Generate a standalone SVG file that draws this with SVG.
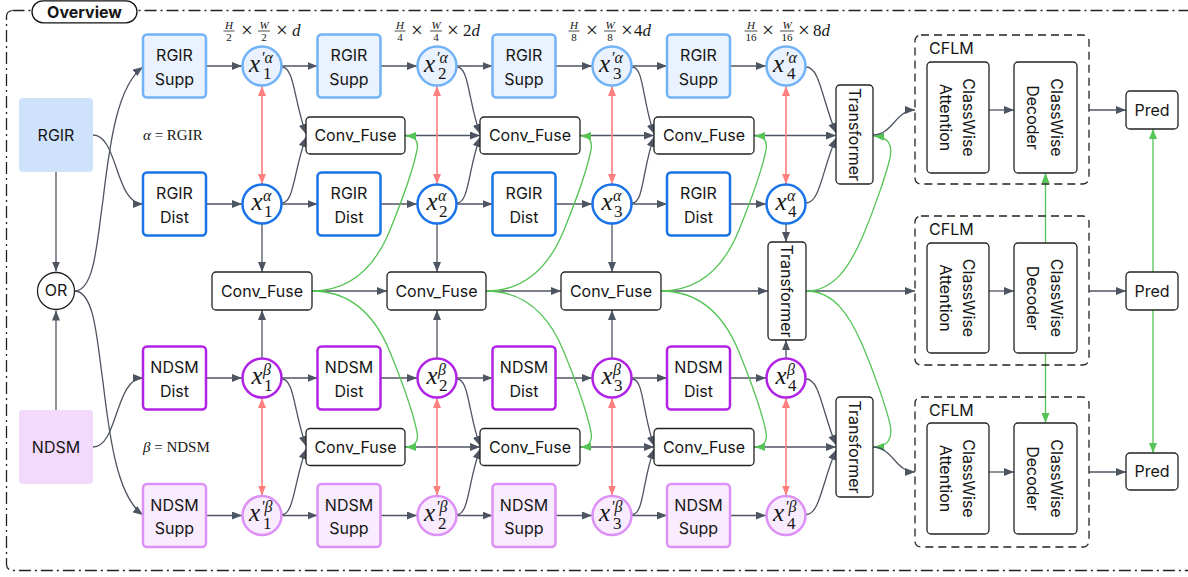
<svg xmlns="http://www.w3.org/2000/svg" width="1188" height="577" viewBox="0 0 1188 577">
<defs>
<style>
.t{font-family:Inter,"Noto Sans",sans-serif;font-size:16px;fill:#161616;text-anchor:middle}
.ts{text-anchor:start}
.m{font-family:"Liberation Serif",serif;fill:#161616}
.mi{font-style:italic}
.fr{font-size:11px;text-anchor:middle}
.op{font-size:21px;text-anchor:middle}
.st{font-size:17px;text-anchor:start}
.mx{font-size:25px;font-style:italic}
.ms{font-size:16px;font-style:italic}
.md{font-size:17px}
.bar{stroke:#222;stroke-width:0.8}
.bx{fill:#fff;stroke:#222;stroke-width:1.3}
.sa{fill:#e9f2fe;stroke:#72b2f6;stroke-width:2.5}
.da{fill:#fff;stroke:#1a73e8;stroke-width:2.5}
.db{fill:#fff;stroke:#b122e6;stroke-width:2.5}
.sb{fill:#f8ecfe;stroke:#dd90f5;stroke-width:2.5}
.cf{fill:none;stroke:#222;stroke-width:1.3;stroke-dasharray:8 5}
.g{fill:none;stroke:#4e5562;stroke-width:1.3;marker-end:url(#ag)}
.r{fill:none;stroke:#ff7e7e;stroke-width:1.6;marker-start:url(#ar);marker-end:url(#ar)}
.gr{fill:none;stroke:#55c455;stroke-width:1.3;marker-end:url(#agr)}
</style>
<marker id="ag" markerUnits="userSpaceOnUse" markerWidth="10" markerHeight="8" refX="10" refY="4" orient="auto"><path d="M0,0 L10,4 L0,8 z" fill="#4e5562"/></marker>
<marker id="ar" markerUnits="userSpaceOnUse" markerWidth="10" markerHeight="8" refX="10" refY="4" orient="auto-start-reverse"><path d="M0,0 L10,4 L0,8 z" fill="#ff7e7e"/></marker>
<marker id="agr" markerUnits="userSpaceOnUse" markerWidth="10" markerHeight="8" refX="10" refY="4" orient="auto"><path d="M0,0 L10,4 L0,8 z" fill="#55c455"/></marker>
</defs>
<rect width="1188" height="577" fill="#fff"/>
<rect x="6.5" y="10.5" width="1190" height="560" rx="6" fill="none" stroke="#222" stroke-width="1.3" stroke-dasharray="12 4 2 4"/>
<g id="overview"><rect x="32" y="0.8" width="105" height="22" rx="11" fill="#fff" stroke="#111" stroke-width="1.3"/><text class="t" x="84.5" y="17.5" font-weight="700">Overview</text></g>

<g id="dims">
<g id="dim1">
<text class="m fr mi" x="229" y="28.5">H</text><line class="bar" x1="223.5" y1="31" x2="234.5" y2="31"/><text class="m fr" x="229" y="40.5">2</text>
<text class="m op" x="247" y="37">×</text>
<text class="m fr mi" x="264" y="28.5">W</text><line class="bar" x1="258" y1="31" x2="270" y2="31"/><text class="m fr" x="264" y="40.5">2</text>
<text class="m op" x="282" y="37">×</text>
<text class="m st mi" x="292" y="36">d</text>
</g>
<g id="dim2">
<text class="m fr mi" x="400" y="28.5">H</text><line class="bar" x1="394.5" y1="31" x2="405.5" y2="31"/><text class="m fr" x="400" y="40.5">4</text>
<text class="m op" x="417" y="37">×</text>
<text class="m fr mi" x="436" y="28.5">W</text><line class="bar" x1="430" y1="31" x2="442" y2="31"/><text class="m fr" x="436" y="40.5">4</text>
<text class="m op" x="453" y="37">×</text>
<text class="m st" x="463" y="36">2<tspan class="mi">d</tspan></text>
</g>
<g id="dim3">
<text class="m fr mi" x="574" y="28.5">H</text><line class="bar" x1="568.5" y1="31" x2="579.5" y2="31"/><text class="m fr" x="574" y="40.5">8</text>
<text class="m op" x="592" y="37">×</text>
<text class="m fr mi" x="610" y="28.5">W</text><line class="bar" x1="604" y1="31" x2="616" y2="31"/><text class="m fr" x="610" y="40.5">8</text>
<text class="m op" x="627" y="37">×</text>
<text class="m st" x="634" y="36">4<tspan class="mi">d</tspan></text>
</g>
<g id="dim4">
<text class="m fr mi" x="751" y="28.5">H</text><line class="bar" x1="744.5" y1="31" x2="757.5" y2="31"/><text class="m fr" x="751" y="40.5">16</text>
<text class="m op" x="768" y="37">×</text>
<text class="m fr mi" x="787" y="28.5">W</text><line class="bar" x1="780" y1="31" x2="794" y2="31"/><text class="m fr" x="787" y="40.5">16</text>
<text class="m op" x="804" y="37">×</text>
<text class="m st" x="813" y="36">8<tspan class="mi">d</tspan></text>
</g>
<text class="m" x="143" y="140" font-size="15"><tspan class="mi">α</tspan> = RGIR</text>
<text class="m" x="143" y="451.5" font-size="15"><tspan class="mi">β</tspan> = NDSM</text>
</g>

<g id="connectors">
<path class="g" d="M56,172 L56,271.5"/>
<path class="g" d="M56,410 L56,310.5"/>
<path class="g" d="M75,291 C95,290 97,240 103,200 C110,140 118,85 143,67"/>
<path class="g" d="M75,291 C95,292 97,342 103,382 C110,442 118,497 143,515"/>
<path class="g" d="M93,135 C118,135 115,204 143,204"/>
<path class="g" d="M93,447 C118,447 115,378 143,378"/>
<path class="g" d="M206,66 L242,66"/><path class="g" d="M282,66 L317.5,66"/><path class="g" d="M380.5,66 L417,66"/><path class="g" d="M457,66 L492.5,66"/><path class="g" d="M555.5,66 L592,66"/><path class="g" d="M632,66 L667,66"/><path class="g" d="M730,66 L766,66"/>
<path class="g" d="M206,204 L242,204"/><path class="g" d="M282,204 L317.5,204"/><path class="g" d="M380.5,204 L417,204"/><path class="g" d="M457,204 L492.5,204"/><path class="g" d="M555.5,204 L592,204"/><path class="g" d="M632,204 L667,204"/><path class="g" d="M730,204 L766,204"/>
<path class="g" d="M206,378 L242,378"/><path class="g" d="M282,378 L317.5,378"/><path class="g" d="M380.5,378 L417,378"/><path class="g" d="M457,378 L492.5,378"/><path class="g" d="M555.5,378 L592,378"/><path class="g" d="M632,378 L667,378"/><path class="g" d="M730,378 L766,378"/>
<path class="g" d="M206,515.5 L242,515.5"/><path class="g" d="M282,515.5 L317.5,515.5"/><path class="g" d="M380.5,515.5 L417,515.5"/><path class="g" d="M457,515.5 L492.5,515.5"/><path class="g" d="M555.5,515.5 L592,515.5"/><path class="g" d="M632,515.5 L667,515.5"/><path class="g" d="M730,515.5 L766,515.5"/>
<path class="g" d="M282,67 C294,67 294,100 306,134"/><path class="g" d="M282,203 C294,203 294,170 306,137"/>
<path class="g" d="M457,67 C469,67 468,100 480,134"/><path class="g" d="M457,203 C469,203 468,170 480,137"/>
<path class="g" d="M632,67 C644,67 642,100 654,134"/><path class="g" d="M632,203 C644,203 642,170 654,137"/>
<path class="g" d="M806,67 C820,67 822,100 836,133"/><path class="g" d="M806,203 C820,203 822,170 836,138"/>
<path class="g" d="M282,379 C294,379 294,412 306,446"/><path class="g" d="M282,514.5 C294,514.5 294,482 306,449"/>
<path class="g" d="M457,379 C469,379 468,412 480,446"/><path class="g" d="M457,514.5 C469,514.5 468,482 480,449"/>
<path class="g" d="M632,379 C644,379 642,412 654,446"/><path class="g" d="M632,514.5 C644,514.5 642,482 654,449"/>
<path class="g" d="M806,379 C820,379 822,412 836,445"/><path class="g" d="M806,514.5 C820,514.5 822,482 836,450"/>
<path class="g" d="M405,135.5 L480,135.5"/><path class="g" d="M580,135.5 L654,135.5"/><path class="g" d="M754,135.5 L836,135.5"/>
<path class="g" d="M405,447 L480,447"/><path class="g" d="M580,447 L654,447"/><path class="g" d="M754,447 L836,447"/>
<path class="g" d="M312,291 L387,291"/><path class="g" d="M486,291 L561,291"/><path class="g" d="M661,291 L768,291"/><path class="g" d="M806,291 L915,291"/>
<path class="g" d="M262,224 L262,272"/><path class="g" d="M437,224 L437,272"/><path class="g" d="M612,224 L612,272"/><path class="g" d="M786,224 L786,242"/>
<path class="g" d="M262,358 L262,310"/><path class="g" d="M437,358 L437,310"/><path class="g" d="M612,358 L612,310"/><path class="g" d="M786,358 L786,340"/>
<path class="r" d="M262,86 L262,184"/><path class="r" d="M437,86 L437,184"/><path class="r" d="M612,86 L612,184"/><path class="r" d="M786,86 L786,184"/>
<path class="r" d="M262,398 L262,495.5"/><path class="r" d="M437,398 L437,495.5"/><path class="r" d="M612,398 L612,495.5"/><path class="r" d="M786,398 L786,495.5"/>
<path class="gr" d="M312,291 C355,291 377,262 390,230 C403,198 414,165 417,150 C419,140 414,136 406,136"/>
<path class="gr" d="M312,291 C355,291 377,320 390,352 C403,384 414,417 417,432 C419,442 414,447 406,447"/>
<path class="gr" d="M486,291 C529,291 551,262 564,230 C577,198 588,165 591,150 C593,140 588,136 581,136"/>
<path class="gr" d="M486,291 C529,291 551,320 564,352 C577,384 588,417 591,432 C593,442 588,447 581,447"/>
<path class="gr" d="M661,291 C704,291 726,262 739,230 C752,198 763,165 766,150 C768,140 763,136 755,136"/>
<path class="gr" d="M661,291 C704,291 726,320 739,352 C752,384 763,417 766,432 C768,442 763,447 755,447"/>
<path class="gr" d="M806,291 C835,291 850,265 862,238 C874,210 886,175 890,158 C893,144 888,137 874,136"/>
<path class="gr" d="M806,291 C835,291 850,317 862,344 C874,372 886,407 890,424 C893,438 888,447 874,447"/>
<path class="g" d="M873,135 C893,135 895,110 915,110"/>
<path class="g" d="M873,447 C893,447 895,472 915,472"/>
<path class="g" d="M989,110 L1014,110"/><path class="g" d="M989,291 L1014,291"/><path class="g" d="M989,472 L1014,472"/>
<path class="g" d="M1089,110 L1126,110"/><path class="g" d="M1089,291 L1126,291"/><path class="g" d="M1089,472 L1126,472"/>
<path class="gr" d="M1045.5,243 L1045.5,173"/><path class="gr" d="M1045.5,353 L1045.5,423"/>
<path class="gr" d="M1153,272 L1153,129"/><path class="gr" d="M1153,310 L1153,453"/>
</g>

<g id="rgir"><rect x="19" y="98" width="74" height="74" rx="4" fill="#cfe2fc"/><text class="t" x="56" y="141">RGIR</text></g>
<g id="ndsm"><rect x="19" y="410" width="74" height="74" rx="4" fill="#f3dafc"/><text class="t" x="56" y="453">NDSM</text></g>
<g id="or"><circle cx="56" cy="291" r="18.5" class="bx"/><text class="t" x="56" y="295.5" font-size="12">OR</text></g>

<g id="supp_a1"><rect class="sa" x="143" y="34.5" width="63" height="63" rx="4"/><text class="t" x="174.5" y="61">RGIR</text><text class="t" x="174.5" y="84.5">Supp</text></g>
<g id="supp_a2"><rect class="sa" x="317.5" y="34.5" width="63" height="63" rx="4"/><text class="t" x="349" y="61">RGIR</text><text class="t" x="349" y="84.5">Supp</text></g>
<g id="supp_a3"><rect class="sa" x="492.5" y="34.5" width="63" height="63" rx="4"/><text class="t" x="524" y="61">RGIR</text><text class="t" x="524" y="84.5">Supp</text></g>
<g id="supp_a4"><rect class="sa" x="667" y="34.5" width="63" height="63" rx="4"/><text class="t" x="698.5" y="61">RGIR</text><text class="t" x="698.5" y="84.5">Supp</text></g>

<g id="dist_a1"><rect class="da" x="143" y="172.5" width="63" height="63" rx="4"/><text class="t" x="174.5" y="199">RGIR</text><text class="t" x="174.5" y="222.5">Dist</text></g>
<g id="dist_a2"><rect class="da" x="317.5" y="172.5" width="63" height="63" rx="4"/><text class="t" x="349" y="199">RGIR</text><text class="t" x="349" y="222.5">Dist</text></g>
<g id="dist_a3"><rect class="da" x="492.5" y="172.5" width="63" height="63" rx="4"/><text class="t" x="524" y="199">RGIR</text><text class="t" x="524" y="222.5">Dist</text></g>
<g id="dist_a4"><rect class="da" x="667" y="172.5" width="63" height="63" rx="4"/><text class="t" x="698.5" y="199">RGIR</text><text class="t" x="698.5" y="222.5">Dist</text></g>

<g id="dist_b1"><rect class="db" x="143" y="346.5" width="63" height="63" rx="4"/><text class="t" x="174.5" y="373">NDSM</text><text class="t" x="174.5" y="396.5">Dist</text></g>
<g id="dist_b2"><rect class="db" x="317.5" y="346.5" width="63" height="63" rx="4"/><text class="t" x="349" y="373">NDSM</text><text class="t" x="349" y="396.5">Dist</text></g>
<g id="dist_b3"><rect class="db" x="492.5" y="346.5" width="63" height="63" rx="4"/><text class="t" x="524" y="373">NDSM</text><text class="t" x="524" y="396.5">Dist</text></g>
<g id="dist_b4"><rect class="db" x="667" y="346.5" width="63" height="63" rx="4"/><text class="t" x="698.5" y="373">NDSM</text><text class="t" x="698.5" y="396.5">Dist</text></g>

<g id="supp_b1"><rect class="sb" x="143" y="484" width="63" height="63" rx="4"/><text class="t" x="174.5" y="510.5">NDSM</text><text class="t" x="174.5" y="534">Supp</text></g>
<g id="supp_b2"><rect class="sb" x="317.5" y="484" width="63" height="63" rx="4"/><text class="t" x="349" y="510.5">NDSM</text><text class="t" x="349" y="534">Supp</text></g>
<g id="supp_b3"><rect class="sb" x="492.5" y="484" width="63" height="63" rx="4"/><text class="t" x="524" y="510.5">NDSM</text><text class="t" x="524" y="534">Supp</text></g>
<g id="supp_b4"><rect class="sb" x="667" y="484" width="63" height="63" rx="4"/><text class="t" x="698.5" y="510.5">NDSM</text><text class="t" x="698.5" y="534">Supp</text></g>

<g id="xa1p"><circle class="sa" cx="262" cy="66" r="19.5"/><text class="m mx" x="249" y="71.5">x</text><text class="m ms" x="261" y="62.5">′α</text><text class="m md" x="263" y="79">1</text></g>
<g id="xa2p"><circle class="sa" cx="437" cy="66" r="19.5"/><text class="m mx" x="424" y="71.5">x</text><text class="m ms" x="436" y="62.5">′α</text><text class="m md" x="438" y="79">2</text></g>
<g id="xa3p"><circle class="sa" cx="612" cy="66" r="19.5"/><text class="m mx" x="599" y="71.5">x</text><text class="m ms" x="611" y="62.5">′α</text><text class="m md" x="613" y="79">3</text></g>
<g id="xa4p"><circle class="sa" cx="786" cy="66" r="19.5"/><text class="m mx" x="773" y="71.5">x</text><text class="m ms" x="785" y="62.5">′α</text><text class="m md" x="787" y="79">4</text></g>

<g id="xa1"><circle class="da" cx="262" cy="204" r="19.5"/><text class="m mx" x="251.5" y="209.5">x</text><text class="m ms" x="263" y="200.5">α</text><text class="m md" x="264" y="217">1</text></g>
<g id="xa2"><circle class="da" cx="437" cy="204" r="19.5"/><text class="m mx" x="426.5" y="209.5">x</text><text class="m ms" x="438" y="200.5">α</text><text class="m md" x="439" y="217">2</text></g>
<g id="xa3"><circle class="da" cx="612" cy="204" r="19.5"/><text class="m mx" x="601.5" y="209.5">x</text><text class="m ms" x="613" y="200.5">α</text><text class="m md" x="614" y="217">3</text></g>
<g id="xa4"><circle class="da" cx="786" cy="204" r="19.5"/><text class="m mx" x="775.5" y="209.5">x</text><text class="m ms" x="787" y="200.5">α</text><text class="m md" x="788" y="217">4</text></g>

<g id="xb1"><circle class="db" cx="262" cy="378" r="19.5"/><text class="m mx" x="251.5" y="383.5">x</text><text class="m ms" x="263" y="374.5">β</text><text class="m md" x="264" y="391">1</text></g>
<g id="xb2"><circle class="db" cx="437" cy="378" r="19.5"/><text class="m mx" x="426.5" y="383.5">x</text><text class="m ms" x="438" y="374.5">β</text><text class="m md" x="439" y="391">2</text></g>
<g id="xb3"><circle class="db" cx="612" cy="378" r="19.5"/><text class="m mx" x="601.5" y="383.5">x</text><text class="m ms" x="613" y="374.5">β</text><text class="m md" x="614" y="391">3</text></g>
<g id="xb4"><circle class="db" cx="786" cy="378" r="19.5"/><text class="m mx" x="775.5" y="383.5">x</text><text class="m ms" x="787" y="374.5">β</text><text class="m md" x="788" y="391">4</text></g>

<g id="xb1p"><circle class="sb" cx="262" cy="515.5" r="19.5"/><text class="m mx" x="249" y="521">x</text><text class="m ms" x="261" y="512">′β</text><text class="m md" x="263" y="528.5">1</text></g>
<g id="xb2p"><circle class="sb" cx="437" cy="515.5" r="19.5"/><text class="m mx" x="424" y="521">x</text><text class="m ms" x="436" y="512">′β</text><text class="m md" x="438" y="528.5">2</text></g>
<g id="xb3p"><circle class="sb" cx="612" cy="515.5" r="19.5"/><text class="m mx" x="599" y="521">x</text><text class="m ms" x="611" y="512">′β</text><text class="m md" x="613" y="528.5">3</text></g>
<g id="xb4p"><circle class="sb" cx="786" cy="515.5" r="19.5"/><text class="m mx" x="773" y="521">x</text><text class="m ms" x="785" y="512">′β</text><text class="m md" x="787" y="528.5">4</text></g>

<g id="conv_t1"><rect class="bx" x="306" y="117" width="99" height="37" rx="4"/><text class="t" x="355.5" y="141.3">Conv_Fuse</text></g>
<g id="conv_t2"><rect class="bx" x="480" y="117" width="100" height="37" rx="4"/><text class="t" x="530" y="141.3">Conv_Fuse</text></g>
<g id="conv_t3"><rect class="bx" x="654" y="117" width="100" height="37" rx="4"/><text class="t" x="704" y="141.3">Conv_Fuse</text></g>
<g id="conv_m1"><rect class="bx" x="212" y="272" width="100" height="38" rx="4"/><text class="t" x="262" y="296.8">Conv_Fuse</text></g>
<g id="conv_m2"><rect class="bx" x="387" y="272" width="99" height="38" rx="4"/><text class="t" x="436.5" y="296.8">Conv_Fuse</text></g>
<g id="conv_m3"><rect class="bx" x="561" y="272" width="100" height="38" rx="4"/><text class="t" x="611" y="296.8">Conv_Fuse</text></g>
<g id="conv_b1"><rect class="bx" x="306" y="428.5" width="99" height="37" rx="4"/><text class="t" x="355.5" y="452.8">Conv_Fuse</text></g>
<g id="conv_b2"><rect class="bx" x="480" y="428.5" width="100" height="37" rx="4"/><text class="t" x="530" y="452.8">Conv_Fuse</text></g>
<g id="conv_b3"><rect class="bx" x="654" y="428.5" width="100" height="37" rx="4"/><text class="t" x="704" y="452.8">Conv_Fuse</text></g>

<g id="trans_t"><rect class="bx" x="836" y="85" width="37" height="99" rx="4"/><text class="t" transform="translate(854.5,134.5) rotate(90)" x="0" y="5.8">Transformer</text></g>
<g id="trans_m"><rect class="bx" x="768" y="242" width="38" height="98" rx="4"/><text class="t" transform="translate(787,291) rotate(90)" x="0" y="5.8">Transformer</text></g>
<g id="trans_b"><rect class="bx" x="836" y="397" width="37" height="100" rx="4"/><text class="t" transform="translate(854.5,447) rotate(90)" x="0" y="5.8">Transformer</text></g>

<g id="cflm_t"><rect class="cf" x="915" y="35" width="174" height="149" rx="6"/><text class="t ts" x="929" y="53.5">CFLM</text>
<rect class="bx" x="927" y="62" width="62" height="111" rx="4"/><text class="t" transform="translate(958,117.5) rotate(90)"><tspan x="0" y="-5">ClassWise</tspan><tspan x="0" y="18.5">Attention</tspan></text>
<rect class="bx" x="1014" y="62" width="63" height="111" rx="4"/><text class="t" transform="translate(1045.5,117.5) rotate(90)"><tspan x="0" y="-5">ClassWise</tspan><tspan x="0" y="18.5">Decoder</tspan></text></g>
<g id="cflm_m"><rect class="cf" x="915" y="216" width="174" height="149" rx="6"/><text class="t ts" x="929" y="234.5">CFLM</text>
<rect class="bx" x="927" y="243" width="62" height="110" rx="4"/><text class="t" transform="translate(958,298) rotate(90)"><tspan x="0" y="-5">ClassWise</tspan><tspan x="0" y="18.5">Attention</tspan></text>
<rect class="bx" x="1014" y="243" width="63" height="110" rx="4"/><text class="t" transform="translate(1045.5,298) rotate(90)"><tspan x="0" y="-5">ClassWise</tspan><tspan x="0" y="18.5">Decoder</tspan></text></g>
<g id="cflm_b"><rect class="cf" x="915" y="397" width="174" height="150" rx="6"/><text class="t ts" x="929" y="415.5">CFLM</text>
<rect class="bx" x="927" y="423" width="62" height="111" rx="4"/><text class="t" transform="translate(958,478.5) rotate(90)"><tspan x="0" y="-5">ClassWise</tspan><tspan x="0" y="18.5">Attention</tspan></text>
<rect class="bx" x="1014" y="423" width="63" height="111" rx="4"/><text class="t" transform="translate(1045.5,478.5) rotate(90)"><tspan x="0" y="-5">ClassWise</tspan><tspan x="0" y="18.5">Decoder</tspan></text></g>

<g id="pred_t"><rect class="bx" x="1126" y="91" width="52" height="38" rx="4"/><text class="t" x="1152" y="115.8">Pred</text></g>
<g id="pred_m"><rect class="bx" x="1126" y="272" width="52" height="38" rx="4"/><text class="t" x="1152" y="296.8">Pred</text></g>
<g id="pred_b"><rect class="bx" x="1126" y="453" width="52" height="37" rx="4"/><text class="t" x="1152" y="477.3">Pred</text></g>
</svg>
